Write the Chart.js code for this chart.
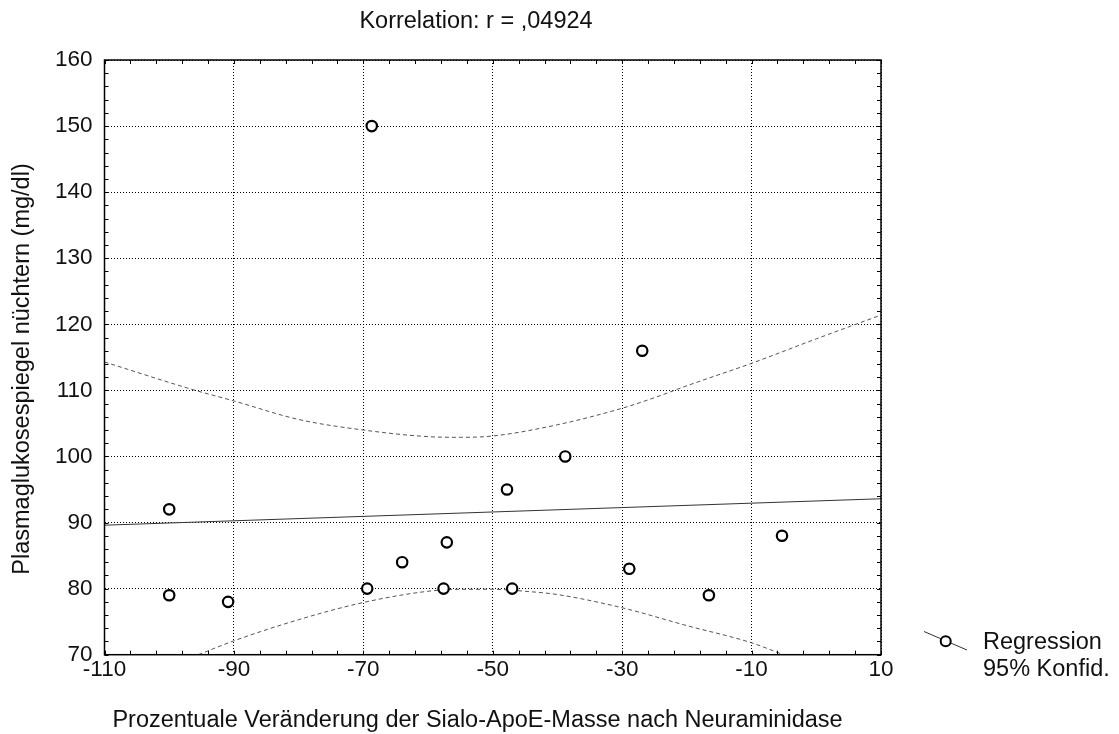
<!DOCTYPE html>
<html><head><meta charset="utf-8">
<script src="https://cdn.jsdelivr.net/npm/chart.js@4.4.0/dist/chart.umd.min.js"></script>
<style>html,body{margin:0;padding:0;background:#fff;overflow:hidden}#wrap{width:1119px;height:734px;position:relative}</style>
</head><body><div id="wrap"><canvas id="c" width="1119" height="734"></canvas></div>
<script>
const titleText = 'Korrelation: r = ,04924';
const xTitle = 'Prozentuale Veränderung der Sialo-ApoE-Masse nach Neuraminidase';
const yTitle = 'Plasmaglukosespiegel nüchtern (mg/dl)';
const legendLabels = ['Regression', '95% Konfid.'];

const xTicks = [-110, -90, -70, -50, -30, -10, 10];
const yTicks = [70, 80, 90, 100, 110, 120, 130, 140, 150, 160];

const pointX = [-100, -100, -90.9, -69.4, -68.7, -64, -57.6, -57.1, -47.8, -47, -38.8, -28.9, -26.9, -16.6, -5.3];
const pointY = [92, 79, 78, 80, 150, 84, 80, 87, 95, 80, 100, 83, 116, 79, 88];

const regX = [-110, 10];
const regY = [89.6, 93.6];

const upperX = [-110, -96.3, -90, -80, -70, -60, -55, -50, -40, -30, -25, -20, -10, 0, 10];
const upperY = [114.3, 110.1, 108.4, 105.6, 104.0, 103.0, 102.9, 103.1, 104.8, 107.3, 108.9, 110.7, 114.1, 117.8, 121.4];

const lowerX = [-95.5, -90, -80, -70, -60, -55, -50, -45, -40, -30, -20, -10, -5.1];
const lowerY = [70, 72.1, 75.3, 77.9, 79.6, 79.9, 79.9, 79.6, 79.1, 77.1, 74.4, 71.8, 70];

const FONT = '"Liberation Sans", Arial, Helvetica, sans-serif';
const toXY = (xs, ys) => xs.map((v, i) => ({x: v, y: ys[i]}));

const decor = {
  id: 'decor',
  afterDraw(chart) {
    const {ctx, chartArea: a, scales: {x, y}} = chart;
    ctx.save();
    ctx.strokeStyle = '#000';
    ctx.lineWidth = 1.5;
    ctx.strokeRect(a.left, a.top, a.right - a.left, a.bottom - a.top);
    ctx.lineWidth = 1;
    ctx.beginPath();
    for (let v = xTicks[0]; v <= xTicks[xTicks.length - 1]; v += 4) {
      const px = Math.round(x.getPixelForValue(v)) + 0.5;
      ctx.moveTo(px, a.bottom); ctx.lineTo(px, a.bottom - 4);
      ctx.moveTo(px, a.top); ctx.lineTo(px, a.top + 4);
    }
    for (let v = yTicks[0]; v <= yTicks[yTicks.length - 1]; v += 2) {
      const py = Math.round(y.getPixelForValue(v)) + 0.5;
      ctx.moveTo(a.left, py); ctx.lineTo(a.left + 4, py);
      ctx.moveTo(a.right, py); ctx.lineTo(a.right - 4, py);
    }
    ctx.stroke();

    ctx.fillStyle = '#111';
    ctx.font = '23.5px ' + FONT;
    ctx.textAlign = 'center';
    ctx.textBaseline = 'alphabetic';
    ctx.fillText(titleText, 476, 28);
    ctx.fillText(xTitle, 477.5, 727);
    ctx.save();
    ctx.translate(29, 369);
    ctx.rotate(-Math.PI / 2);
    ctx.fillText(yTitle, 0, 0);
    ctx.restore();

    // legend
    ctx.strokeStyle = '#333';
    ctx.lineWidth = 1;
    ctx.beginPath();
    ctx.moveTo(924, 631.5); ctx.lineTo(967, 650);
    ctx.stroke();
    ctx.beginPath();
    ctx.arc(945.7, 641.3, 5, 0, Math.PI * 2);
    ctx.fillStyle = '#fff'; ctx.fill();
    ctx.strokeStyle = '#000'; ctx.lineWidth = 2; ctx.stroke();
    ctx.fillStyle = '#111';
    ctx.textAlign = 'left';
    ctx.fillText(legendLabels[0], 983, 648.5);
    ctx.fillText(legendLabels[1], 983, 676);
    ctx.restore();
  }
};

new Chart(document.getElementById('c'), {
  type: 'scatter',
  data: {
    datasets: [
      {label: 'Daten', data: toXY(pointX, pointY), pointRadius: 5.2, pointHoverRadius: 5.2,
       borderColor: '#000', backgroundColor: '#fff', borderWidth: 2.2, showLine: false},
      {label: 'Regression', data: toXY(regX, regY), showLine: true, pointRadius: 0,
       borderColor: '#333', borderWidth: 1},
      {label: '95% Konfid. oben', data: toXY(upperX, upperY), showLine: true, pointRadius: 0,
       borderColor: '#555', borderWidth: 1, borderDash: [4, 3], cubicInterpolationMode: 'monotone'},
      {label: '95% Konfid. unten', data: toXY(lowerX, lowerY), showLine: true, pointRadius: 0,
       borderColor: '#555', borderWidth: 1, borderDash: [4, 3], cubicInterpolationMode: 'monotone'}
    ]
  },
  options: {
    responsive: false,
    animation: false,
    devicePixelRatio: 1,
    layout: {padding: {top: 60, right: 238, bottom: 0, left: 0}},
    plugins: {legend: {display: false}, tooltip: {enabled: false}, title: {display: false}},
    scales: {
      x: {
        type: 'linear', min: -110, max: 10,
        afterBuildTicks: s => { s.ticks = xTicks.map(v => ({value: v})); },
        afterFit: s => { s.height = 79.3; },
        ticks: {color: '#111', font: {family: FONT, size: 22.5}, padding: 2, maxRotation: 0},
        grid: {color: '#000', lineWidth: 1, drawTicks: false},
        border: {display: false, dash: [1, 2]}
      },
      y: {
        type: 'linear', min: 70, max: 160,
        afterBuildTicks: s => { s.ticks = yTicks.map(v => ({value: v})); },
        afterFit: s => { s.width = 104.5; },
        ticks: {color: '#111', font: {family: FONT, size: 22.5}, padding: 12},
        grid: {color: '#000', lineWidth: 1, drawTicks: false},
        border: {display: false, dash: [1, 2]}
      }
    }
  },
  plugins: [decor]
});
</script></body></html>
